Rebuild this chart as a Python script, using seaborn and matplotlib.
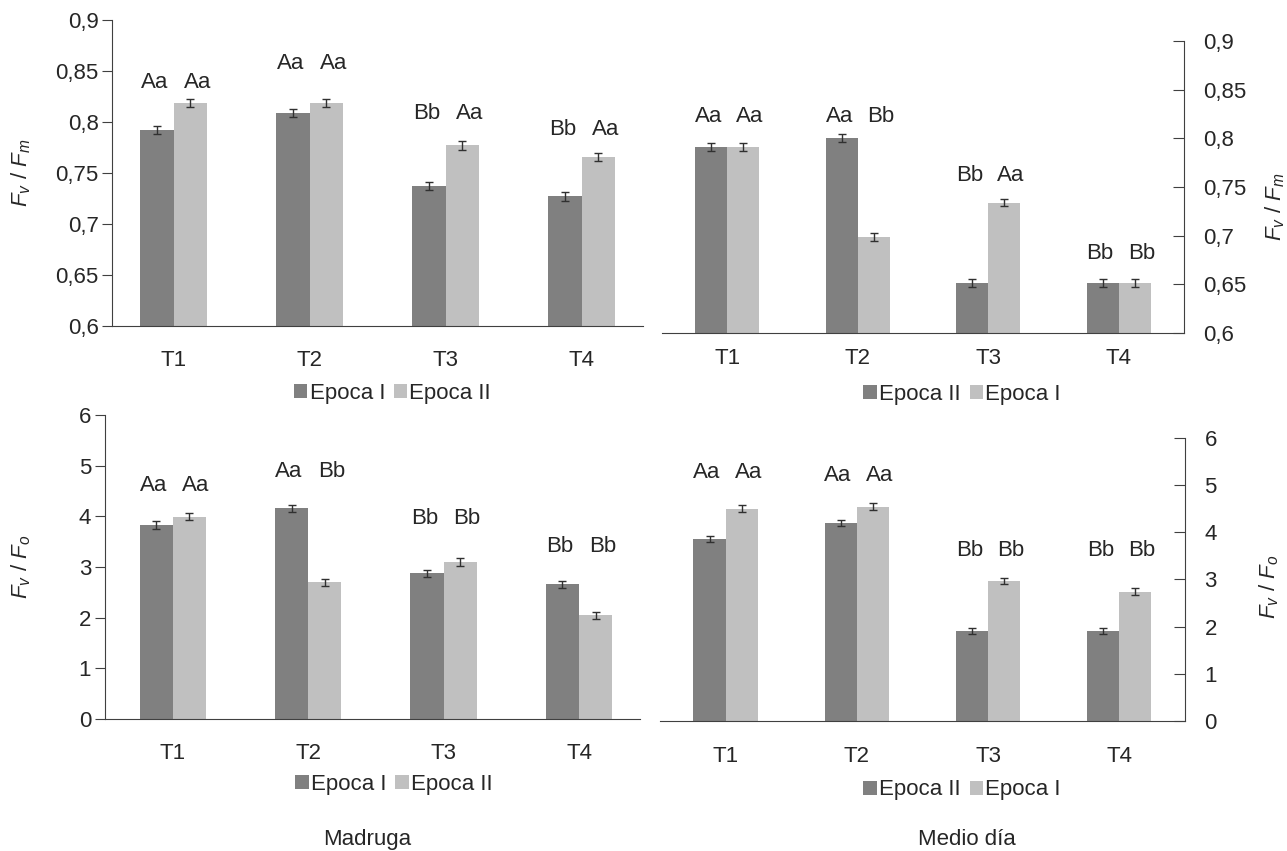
import numpy as np
import pandas as pd
import matplotlib
matplotlib.use("Agg")
import matplotlib.pyplot as plt
import seaborn as sns

# categories and series
tratamientos = ['T1', 'T2', 'T3', 'T4']

# Madruga, Fv/Fm
mad_fm_epoca1 = [0.792, 0.809, 0.737, 0.727]
mad_fm_epoca2 = [0.819, 0.819, 0.777, 0.766]
mad_fm_let1 = ['Aa', 'Aa', 'Bb', 'Bb']
mad_fm_let2 = ['Aa', 'Aa', 'Aa', 'Aa']
mad_fm_lety = [0.839, 0.857, 0.808, 0.793]

# Medio dia, Fv/Fm (Epoca II first, dark)
med_fm_epoca2 = [0.791, 0.800, 0.651, 0.651]
med_fm_epoca1 = [0.791, 0.699, 0.734, 0.651]
med_fm_let2 = ['Aa', 'Aa', 'Bb', 'Bb']
med_fm_let1 = ['Aa', 'Bb', 'Aa', 'Bb']
med_fm_lety = [0.822, 0.822, 0.762, 0.682]

# Madruga, Fv/Fo
mad_fo_epoca1 = [3.83, 4.16, 2.88, 2.66]
mad_fo_epoca2 = [3.99, 2.70, 3.10, 2.05]
mad_fo_let1 = ['Aa', 'Aa', 'Bb', 'Bb']
mad_fo_let2 = ['Aa', 'Bb', 'Bb', 'Bb']
mad_fo_lety = [4.60, 4.88, 3.96, 3.40]

# Medio dia, Fv/Fo (Epoca II first, dark)
med_fo_epoca2 = [3.86, 4.20, 1.91, 1.91]
med_fo_epoca1 = [4.50, 4.54, 2.97, 2.74]
med_fo_let2 = ['Aa', 'Aa', 'Bb', 'Bb']
med_fo_let1 = ['Aa', 'Aa', 'Bb', 'Bb']
med_fo_lety = [5.27, 5.20, 3.61, 3.61]

err_fm = 0.004
err_fo = 0.07

fm_ticks = [0.6, 0.65, 0.7, 0.75, 0.8, 0.85, 0.9]
fm_ticklabels = ['0,6', '0,65', '0,7', '0,75', '0,8', '0,85', '0,9']
fo_ticks = [0, 1, 2, 3, 4, 5, 6]
fo_ticklabels = ['0', '1', '2', '3', '4', '5', '6']

sns.set_style('white')
plt.rcParams['font.family'] = ['Liberation Sans', 'DejaVu Sans']
plt.rcParams['mathtext.fontset'] = 'custom'
plt.rcParams['mathtext.it'] = 'Liberation Sans:italic'
plt.rcParams['mathtext.rm'] = 'Liberation Sans'

dark = '#808080'
light = '#c0c0c0'
axcol = '#404040'
fs = 16

fig = plt.figure(figsize=(12.87, 8.51), dpi=100)


def panel(rect, v1, v2, names, lets1, lets2, lety, err, lim, ticks, tlabels,
          xlim, right, xpad, legpos):
    ax = fig.add_axes(rect)
    df = pd.DataFrame({'trat': tratamientos * 2,
                       'valor': v1 + v2,
                       'epoca': [names[0]] * 4 + [names[1]] * 4})
    sns.barplot(data=df, x='trat', y='valor', hue='epoca', hue_order=names,
                palette=[dark, light], width=0.49, errorbar=None,
                saturation=1, linewidth=0, edgecolor='none', ax=ax, zorder=2)
    # letters sit slightly apart from the bar centres, as in the original
    for cont, lets, shift in zip(ax.containers, [lets1, lets2], [-0.02, 0.05]):
        xs = [p.get_x() + p.get_width() / 2 for p in cont.patches]
        hs = [p.get_height() for p in cont.patches]
        ax.errorbar(xs, hs, yerr=err, fmt='none', ecolor='#303030',
                    elinewidth=1, capsize=3, capthick=1, zorder=3)
        for x, t, y in zip(xs, lets, lety):
            ax.text(x + shift, y, t, ha='center', va='center', fontsize=fs)
    ax.set_ylim(lim)
    ax.set_xlim(xlim)
    ax.set_yticks(ticks)
    ax.set_yticklabels(tlabels)
    ax.set_xlabel('')
    ax.set_ylabel('')
    ax.tick_params(axis='x', length=0, pad=xpad, labelsize=fs)
    for s in ['top', 'left', 'right']:
        ax.spines[s].set_visible(False)
    ax.spines['bottom'].set_color(axcol)
    if right:
        ax.spines['right'].set_visible(True)
        ax.spines['right'].set_color(axcol)
        ax.yaxis.tick_right()
        ax.tick_params(axis='y', direction='in', length=8, pad=14,
                       labelsize=fs, color=axcol)
    else:
        ax.spines['left'].set_visible(True)
        ax.spines['left'].set_color(axcol)
        ax.tick_params(axis='y', direction='out', length=7, pad=3,
                       labelsize=fs, color=axcol, left=True)
    h, l = ax.get_legend_handles_labels()
    ax.legend(h, l, loc='center', bbox_to_anchor=legpos,
              bbox_transform=fig.transFigure, ncol=2, frameon=False,
              fontsize=fs, handlelength=0.6, handleheight=0.6,
              handletextpad=0.1, columnspacing=0.4, borderaxespad=0)
    return ax


panel([0.0874, 0.6169, 0.4122, 0.3596], mad_fm_epoca1, mad_fm_epoca2,
      ['Epoca I', 'Epoca II'], mad_fm_let1, mad_fm_let2, mad_fm_lety, err_fm,
      (0.6, 0.9), fm_ticks, fm_ticklabels, (-0.45, 3.45), False, 17,
      (0.305, 0.538))
panel([0.5144, 0.6087, 0.4056, 0.3431], med_fm_epoca2, med_fm_epoca1,
      ['Epoca II', 'Epoca I'], med_fm_let2, med_fm_let1, med_fm_lety, err_fm,
      (0.6, 0.9), fm_ticks, fm_ticklabels, (-0.5, 3.5), True, 11,
      (0.7475, 0.537))
panel([0.0816, 0.1551, 0.4157, 0.3572], mad_fo_epoca1, mad_fo_epoca2,
      ['Epoca I', 'Epoca II'], mad_fo_let1, mad_fo_let2, mad_fo_lety, err_fo,
      (0, 6), fo_ticks, fo_ticklabels, (-0.5, 3.45), False, 17,
      (0.306, 0.0787))
panel([0.5128, 0.1528, 0.4079, 0.3326], med_fo_epoca2, med_fo_epoca1,
      ['Epoca II', 'Epoca I'], med_fo_let2, med_fo_let1, med_fo_lety, err_fo,
      (0, 6), fo_ticks, fo_ticklabels, (-0.5, 3.5), True, 18,
      (0.7475, 0.0717))

# axis titles and panel captions
fm_lab = r'$F_v$ / $F_m$'
fo_lab = r'$F_v$ / $F_o$'
fig.text(0.0163, 0.797, fm_lab, rotation=90, ha='center', va='center', fontsize=fs)
fig.text(0.9907, 0.757, fm_lab, rotation=90, ha='center', va='center', fontsize=fs)
fig.text(0.0163, 0.334, fo_lab, rotation=90, ha='center', va='center', fontsize=fs)
fig.text(0.986, 0.310, fo_lab, rotation=90, ha='center', va='center', fontsize=fs)
fig.text(0.285, 0.013, 'Madruga', ha='center', va='center', fontsize=fs)
fig.text(0.751, 0.014, 'Medio día', ha='center', va='center', fontsize=fs)

fig.savefig('out.png', dpi=100)
plt.close()
